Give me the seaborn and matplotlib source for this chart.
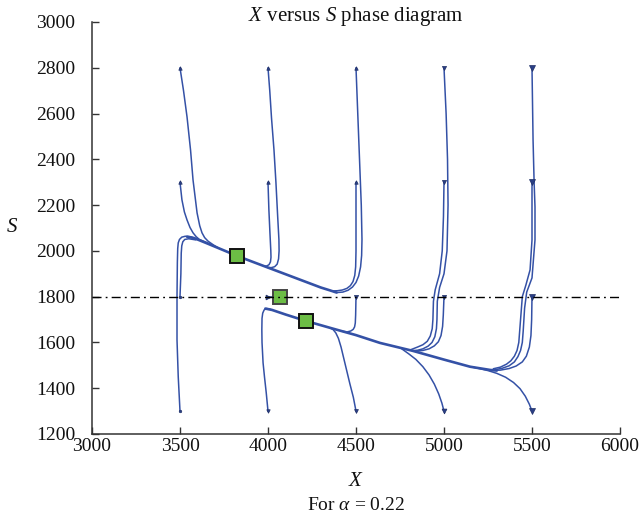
import matplotlib
matplotlib.use("Agg")
import matplotlib.pyplot as plt
import seaborn as sns
import pandas as pd

# ---------------- data ----------------
x_ticks = [3000, 3500, 4000, 4500, 5000, 5500, 6000]
y_ticks = [1200, 1400, 1600, 1800, 2000, 2200, 2400, 2600, 2800, 3000]
ref_s = 1800

# equilibrium points (X, S)
eq_x = [3825, 4070, 4215]
eq_s = [1978, 1800, 1694]

# stable manifolds
um_x = [3540, 3580, 3650, 3750, 3825, 3900, 4000, 4100, 4200, 4300, 4350, 4390]
um_s = [2062, 2056, 2034, 2002, 1978, 1956, 1927, 1898, 1869, 1840, 1828, 1818]
lm_x = [3985, 4023, 4100, 4215, 4352, 4500, 4636, 4824, 5000, 5148, 5261, 5300]
lm_s = [1748, 1742, 1722, 1694, 1664, 1632, 1598, 1563, 1525, 1494, 1480, 1477]

# trajectories (start point first)
a1_x = [3500, 3520, 3540, 3560, 3574, 3597, 3612, 3625, 3640, 3660, 3690, 3720]
a1_s = [2800, 2700, 2585, 2440, 2310, 2166, 2110, 2079, 2058, 2042, 2026, 2012]
a2_x = [3500, 3511, 3525, 3540, 3557, 3574, 3592, 3610, 3650, 3690]
a2_s = [2300, 2223, 2170, 2135, 2102, 2079, 2062, 2050, 2037, 2022]
a3_x = [3500, 3490, 3483, 3483, 3485, 3487, 3490, 3497, 3510, 3530, 3560, 3600]
a3_s = [1300, 1450, 1611, 1800, 1950, 2010, 2035, 2050, 2060, 2064, 2062, 2050]
a4_x = [3500, 3505, 3507, 3510, 3516, 3527, 3550, 3590]
a4_s = [1800, 1900, 1990, 2022, 2040, 2050, 2053, 2048]

b1_x = [4000, 4010, 4020, 4034, 4045, 4055, 4062, 4063, 4060, 4052, 4038, 4020, 4000]
b1_s = [2800, 2700, 2580, 2441, 2300, 2150, 2050, 2000, 1965, 1942, 1931, 1927, 1927]
b2_x = [4000, 4005, 4011, 4016, 4017, 4014, 4006, 3993, 3975]
b2_s = [2300, 2180, 2079, 2000, 1972, 1952, 1940, 1934, 1933]
b3_x = [4000, 4055]
b3_s = [1800, 1800]
b4_x = [4000, 3990, 3980, 3972, 3966, 3965, 3966, 3970, 3978, 3990, 4005, 4023]
b4_s = [1300, 1380, 1450, 1511, 1600, 1655, 1705, 1728, 1742, 1748, 1747, 1742]

c1_x = [4500, 4510, 4520, 4530, 4534, 4532, 4526, 4515, 4500, 4480, 4455, 4425, 4390]
c1_s = [2800, 2600, 2400, 2200, 2050, 1980, 1930, 1890, 1862, 1842, 1828, 1820, 1818]
c2_x = [4500, 4500, 4500, 4498, 4493, 4483, 4468, 4448, 4422, 4395, 4370]
c2_s = [2300, 2150, 2000, 1930, 1893, 1866, 1848, 1836, 1829, 1826, 1825]
c3_x = [4500, 4498, 4496, 4492, 4484, 4470, 4450, 4420]
c3_s = [1800, 1720, 1685, 1668, 1657, 1650, 1646, 1649]
c4_x = [4500, 4485, 4465, 4440, 4415, 4400, 4385, 4370, 4352]
c4_s = [1300, 1360, 1420, 1500, 1580, 1618, 1642, 1656, 1664]

d1_x = [5000, 5012, 5020, 5023, 5017, 5000, 4975, 4962, 4960, 4957, 4948, 4932, 4910, 4880, 4850, 4820]
d1_s = [2800, 2600, 2400, 2200, 2000, 1900, 1840, 1780, 1700, 1660, 1625, 1600, 1584, 1572, 1566, 1564]
d2_x = [5000, 4997, 4990, 4975, 4950, 4940, 4937, 4933, 4922, 4905, 4880, 4850, 4810]
d2_s = [2300, 2150, 2000, 1900, 1830, 1780, 1700, 1660, 1628, 1605, 1590, 1580, 1568]
d3_x = [5000, 4996, 4992, 4983, 4968, 4945, 4915, 4880, 4840]
d3_s = [1800, 1720, 1670, 1630, 1603, 1585, 1572, 1565, 1562]
d4_x = [5000, 4988, 4970, 4945, 4915, 4880, 4840, 4800, 4760]
d4_s = [1300, 1335, 1375, 1418, 1458, 1494, 1526, 1550, 1572]

e1_x = [5500, 5506, 5512, 5517, 5517, 5500, 5470, 5458, 5450, 5445, 5435, 5420, 5400, 5370, 5330, 5290, 5260]
e1_s = [2800, 2485, 2300, 2192, 2048, 1882, 1820, 1750, 1650, 1600, 1565, 1538, 1515, 1498, 1487, 1481, 1480]
e2_x = [5500, 5500, 5489, 5465, 5445, 5435, 5425, 5415, 5400, 5380, 5355, 5320, 5280]
e2_s = [2300, 2048, 1917, 1850, 1800, 1700, 1600, 1565, 1540, 1520, 1505, 1492, 1485]
e3_x = [5500, 5498, 5494, 5485, 5468, 5445, 5410, 5370, 5320, 5270]
e3_s = [1800, 1700, 1630, 1580, 1540, 1515, 1497, 1486, 1479, 1478]
e4_x = [5500, 5485, 5462, 5432, 5395, 5350, 5300, 5250, 5200, 5150]
e4_s = [1300, 1330, 1365, 1398, 1425, 1448, 1465, 1477, 1486, 1494]

trajectories = {
    "a1": (a1_x, a1_s), "a2": (a2_x, a2_s), "a3": (a3_x, a3_s), "a4": (a4_x, a4_s),
    "b1": (b1_x, b1_s), "b2": (b2_x, b2_s), "b3": (b3_x, b3_s), "b4": (b4_x, b4_s),
    "c1": (c1_x, c1_s), "c2": (c2_x, c2_s), "c3": (c3_x, c3_s), "c4": (c4_x, c4_s),
    "d1": (d1_x, d1_s), "d2": (d2_x, d2_s), "d3": (d3_x, d3_s), "d4": (d4_x, d4_s),
    "e1": (e1_x, e1_s), "e2": (e2_x, e2_s), "e3": (e3_x, e3_s), "e4": (e4_x, e4_s),
}
# start-arrow style for each trajectory
start_marker = {
    "a1": "^", "a2": "^", "a3": "o", "a4": "o",
    "b1": "^", "b2": "^", "b3": ">", "b4": "v",
    "c1": "^", "c2": "^", "c3": "v", "c4": "v",
    "d1": "v", "d2": "v", "d3": "v", "d4": "v",
    "e1": "v", "e2": "v", "e3": "v", "e4": "v",
}
start_size = {
    "a1": 2.5, "a2": 2.5, "a3": 1.8, "a4": 1.8,
    "b1": 2.5, "b2": 2.5, "b3": 3.5, "b4": 2.5,
    "c1": 2.5, "c2": 2.5, "c3": 3.0, "c4": 2.8,
    "d1": 3.0, "d2": 3.0, "d3": 3.0, "d4": 3.5,
    "e1": 4.0, "e2": 4.0, "e3": 3.8, "e4": 4.2,
}

# ---------------- style ----------------
sns.set_theme(style="ticks")
plt.rcParams["font.family"] = ["Liberation Serif", "DejaVu Serif"]
plt.rcParams["mathtext.fontset"] = "custom"
plt.rcParams["mathtext.rm"] = "Liberation Serif"
plt.rcParams["mathtext.it"] = "Liberation Serif:italic"

BLUE = "#3451a6"
GREEN = "#6cbd45"

fig = plt.figure(figsize=(6.4, 5.19), dpi=100)
ax = fig.add_axes([92 / 640, 1 - 434 / 519, 528 / 640, 412 / 519])

rows = []
for name, (xs, ss) in trajectories.items():
    for i, (xv, sv) in enumerate(zip(xs, ss)):
        rows.append({"traj": name, "X": xv, "S": sv, "order": i})
df = pd.DataFrame(rows)

sns.lineplot(data=df, x="X", y="S", units="traj", estimator=None, sort=False,
             color=BLUE, lw=1.1, ax=ax, zorder=3)

man = pd.DataFrame({"X": um_x + lm_x, "S": um_s + lm_s,
                    "m": ["u"] * len(um_x) + ["l"] * len(lm_x)})
sns.lineplot(data=man, x="X", y="S", units="m", estimator=None, sort=False,
             color=BLUE, lw=1.9, ax=ax, zorder=3)

for name, (xs, ss) in trajectories.items():
    ax.plot(xs[0], ss[0], marker=start_marker[name], ms=start_size[name],
            color="#2a3f86", mec="#1f2f66", mew=0.5, zorder=4)

# reference line
ax.axhline(ref_s, color="black", lw=1.0, dashes=(6.5, 3, 1.3, 3), zorder=6)

# equilibria
ax.plot(eq_x[0], eq_s[0], "s", ms=10, mfc=GREEN, mec="#111111", mew=1.4, zorder=7)
ax.plot(eq_x[1], eq_s[1], "s", ms=10, mfc=GREEN, mec="#444444", mew=1.4, zorder=5)
ax.plot(eq_x[2], eq_s[2], "s", ms=10, mfc=GREEN, mec="#111111", mew=1.4, zorder=7)

ax.set_xlim(3000, 6000)
ax.set_ylim(1200, 3000)
ax.set_xticks(x_ticks)
ax.set_yticks(y_ticks)
ax.set_xlabel("")
ax.set_ylabel("")
for side in ("top", "right"):
    ax.spines[side].set_visible(False)
for side in ("left", "bottom"):
    ax.spines[side].set_color("#333333")
    ax.spines[side].set_linewidth(1.1)
ax.tick_params(axis="both", direction="in", length=5, width=1, color="#333333",
               labelsize=14, labelcolor="#111111")
ax.tick_params(axis="x", pad=3)
ax.tick_params(axis="y", pad=12)

fig.text(356 / 640, 1 - 16 / 519, r"$X$ versus $S$ phase diagram", ha="center",
         va="center", fontsize=15, color="#111111")
fig.text(12 / 640, 1 - 228 / 519, r"$S$", ha="center", va="center", fontsize=15,
         color="#111111")
fig.text(356 / 640, 1 - 482 / 519, r"$X$", ha="center", va="center", fontsize=15,
         color="#111111")
fig.text(356 / 640, 1 - 505 / 519, r"For $\alpha$ = 0.22", ha="center", va="center",
         fontsize=14, color="#111111")

fig.savefig("out.png", dpi=100)
